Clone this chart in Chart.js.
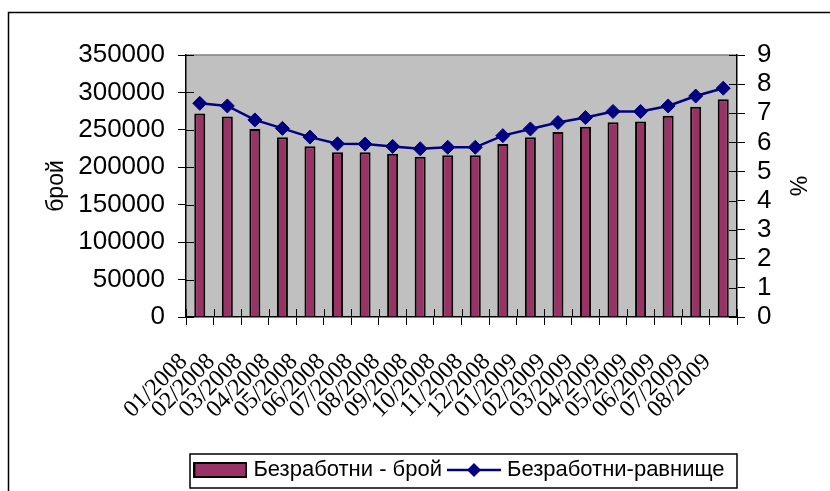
<!DOCTYPE html>
<html>
<head>
<meta charset="utf-8">
<script src="https://cdn.jsdelivr.net/npm/chart.js@4.4.1/dist/chart.umd.min.js"></script>
<style>
  html, body { margin: 0; padding: 0; background: #fff; }
</style>
</head>
<body>
<canvas id="unemploymentChart" width="830" height="491"></canvas>
<script>
const months = ["01/2008", "02/2008", "03/2008", "04/2008", "05/2008", "06/2008", "07/2008", "08/2008", "09/2008", "10/2008",
  "11/2008", "12/2008", "01/2009", "02/2009", "03/2009", "04/2009", "05/2009", "06/2009", "07/2009", "08/2009"];
const unemployedCount = [272000, 268000, 251000, 240000, 228000, 220000, 220000, 218000, 214000, 216000,
  216000, 231000, 240000, 247000, 254000, 260000, 261000, 269000, 281000, 291000];
const unemploymentRate = [7.34, 7.25, 6.77, 6.48, 6.18, 5.95, 5.94, 5.86, 5.78, 5.83,
  5.83, 6.23, 6.46, 6.68, 6.85, 7.06, 7.06, 7.25, 7.59, 7.86];
const countMax = 350000;
const countStep = 50000;
const rateMax = 9;
const rateStep = 1;

const barColor = "#993366";
const lineColor = "#000080";

Chart.defaults.font.family = "'Liberation Sans', Arial, sans-serif";
Chart.defaults.color = "#000";

// legend swatches (bar box, line with diamond)
function makeSwatch(draw) {
  let c = document.createElement("canvas");
  c.width = 54;
  c.height = 16;
  draw(c.getContext("2d"));
  return c;
}
let barSwatch = makeSwatch(function (ctx) {
  ctx.fillStyle = barColor;
  ctx.fillRect(1, 1, 52, 14);
  ctx.lineWidth = 2;
  ctx.strokeStyle = "#000";
  ctx.strokeRect(1, 1, 52, 14);
});
let lineSwatch = makeSwatch(function (ctx) {
  ctx.strokeStyle = lineColor;
  ctx.lineWidth = 2.5;
  ctx.beginPath();
  ctx.moveTo(0, 8);
  ctx.lineTo(54, 8);
  ctx.stroke();
  ctx.fillStyle = lineColor;
  ctx.beginPath();
  ctx.moveTo(20, 8);
  ctx.lineTo(27, 1);
  ctx.lineTo(34, 8);
  ctx.lineTo(27, 15);
  ctx.closePath();
  ctx.fill();
});

let chartFrame = {
  id: "chartFrame",
  afterLayout(chart) {
    // centre the legend under the plot area
    chart.legend.left = chart.chartArea.left - 15;
    chart.legend.right = chart.chartArea.right + 15;
  },
  beforeDraw(chart) {
    let ctx = chart.ctx;
    let a = chart.chartArea;
    ctx.save();
    ctx.fillStyle = "#fff";
    ctx.fillRect(0, 0, chart.width, chart.height);
    ctx.strokeStyle = "#000";
    ctx.lineWidth = 1.5;
    ctx.strokeRect(8.5, 12.5, chart.width, chart.height);
    ctx.fillStyle = "#c0c0c0";
    ctx.fillRect(a.left, a.top, a.right - a.left, a.bottom - a.top);
    ctx.strokeStyle = "#808080";
    ctx.beginPath();
    ctx.moveTo(a.left, a.top);
    ctx.lineTo(a.right, a.top);
    ctx.stroke();
    ctx.restore();
  },
  afterDraw(chart) {
    let ctx = chart.ctx;
    let a = chart.chartArea;
    let s = chart.scales;
    ctx.save();
    ctx.strokeStyle = "#000";
    ctx.lineWidth = 1;
    ctx.beginPath();
    s.y.ticks.forEach(function (t, i) {
      let p = Math.round(s.y.getPixelForTick(i)) + 0.5;
      ctx.moveTo(a.left, p);
      ctx.lineTo(a.left + 8, p);
    });
    s.y1.ticks.forEach(function (t, i) {
      let p = Math.round(s.y1.getPixelForTick(i)) + 0.5;
      ctx.moveTo(a.right - 8, p);
      ctx.lineTo(a.right, p);
    });
    for (let i = 0; i <= months.length; i++) {
      let p = Math.round(s.x.getPixelForValue(i - 0.5)) + 0.5;
      ctx.moveTo(p, a.bottom - 8);
      ctx.lineTo(p, a.bottom);
    }
    ctx.stroke();
    // legend frame
    let lg = chart.legend;
    ctx.lineWidth = 1.5;
    ctx.strokeRect(a.left + 4, lg.top + 5, a.right - a.left - 4, lg.bottom - lg.top - 8);
    ctx.restore();
  }
};

new Chart(document.getElementById("unemploymentChart"), {
  type: "bar",
  data: {
    labels: months,
    datasets: [
      {
        label: "Безработни - брой",
        data: unemployedCount,
        yAxisID: "y",
        backgroundColor: barColor,
        borderColor: "#000",
        borderWidth: 2,
        barPercentage: 0.4,
        categoryPercentage: 1,
        order: 1,
      },
      {
        type: "line",
        label: "Безработни-равнище",
        data: unemploymentRate,
        yAxisID: "y1",
        borderColor: lineColor,
        borderWidth: 2.5,
        pointStyle: "rectRot",
        pointRadius: 7,
        pointBackgroundColor: lineColor,
        pointBorderColor: lineColor,
        pointBorderWidth: 1,
        tension: 0,
        order: 0,
      },
    ],
  },
  options: {
    responsive: false,
    animation: false,
    events: [],
    layout: {
      padding: { top: 55, left: 0, right: 0, bottom: 0 },
    },
    plugins: {
      tooltip: { enabled: false },
      legend: {
        position: "bottom",
        labels: {
          usePointStyle: true,
          pointStyleWidth: 44,
          boxHeight: 22,
          padding: 10,
          color: "#000",
          font: { size: 22 },
          generateLabels: function () {
            return [
              { text: "Безработни - брой", pointStyle: barSwatch, datasetIndex: 0, lineWidth: 0, hidden: false },
              { text: "Безработни-равнище", pointStyle: lineSwatch, datasetIndex: 1, lineWidth: 0, hidden: false },
            ];
          },
        },
      },
    },
    scales: {
      x: {
        offset: true,
        grid: { offset: true, drawOnChartArea: false, tickLength: 8, color: "#000" },
        border: { color: "#000", width: 1.5 },
        ticks: {
          autoSkip: false,
          minRotation: 45,
          maxRotation: 45,
          padding: 23,
          labelOffset: -16,
          color: "#000",
          font: { family: "'Liberation Serif', 'Times New Roman', serif", size: 24 },
        },
        afterFit: function (scale) {
          scale.height = 132;
        },
      },
      y: {
        position: "left",
        min: 0,
        max: countMax,
        ticks: {
          stepSize: countStep,
          autoSkip: false,
          padding: 13,
          color: "#000",
          font: { size: 26 },
          callback: function (v) {
            return String(v);
          },
        },
        grid: { drawOnChartArea: false, tickLength: 8, color: "#000" },
        border: { color: "#000", width: 1.5 },
        title: { display: true, text: "брой", color: "#000", font: { size: 23 }, padding: { top: 43, bottom: 0 } },
        afterFit: function (scale) {
          scale.width = 186;
        },
      },
      y1: {
        position: "right",
        min: 0,
        max: rateMax,
        ticks: {
          stepSize: rateStep,
          autoSkip: false,
          padding: 12,
          color: "#000",
          font: { size: 26 },
        },
        grid: { drawOnChartArea: false, tickLength: 8, color: "#000" },
        border: { color: "#000", width: 1.5 },
        title: { display: true, text: "%", color: "#000", font: { size: 23 }, padding: { top: 20, bottom: 0 } },
        afterFit: function (scale) {
          scale.width = 93;
        },
      },
    },
  },
  plugins: [chartFrame],
});
</script>
</body>
</html>
